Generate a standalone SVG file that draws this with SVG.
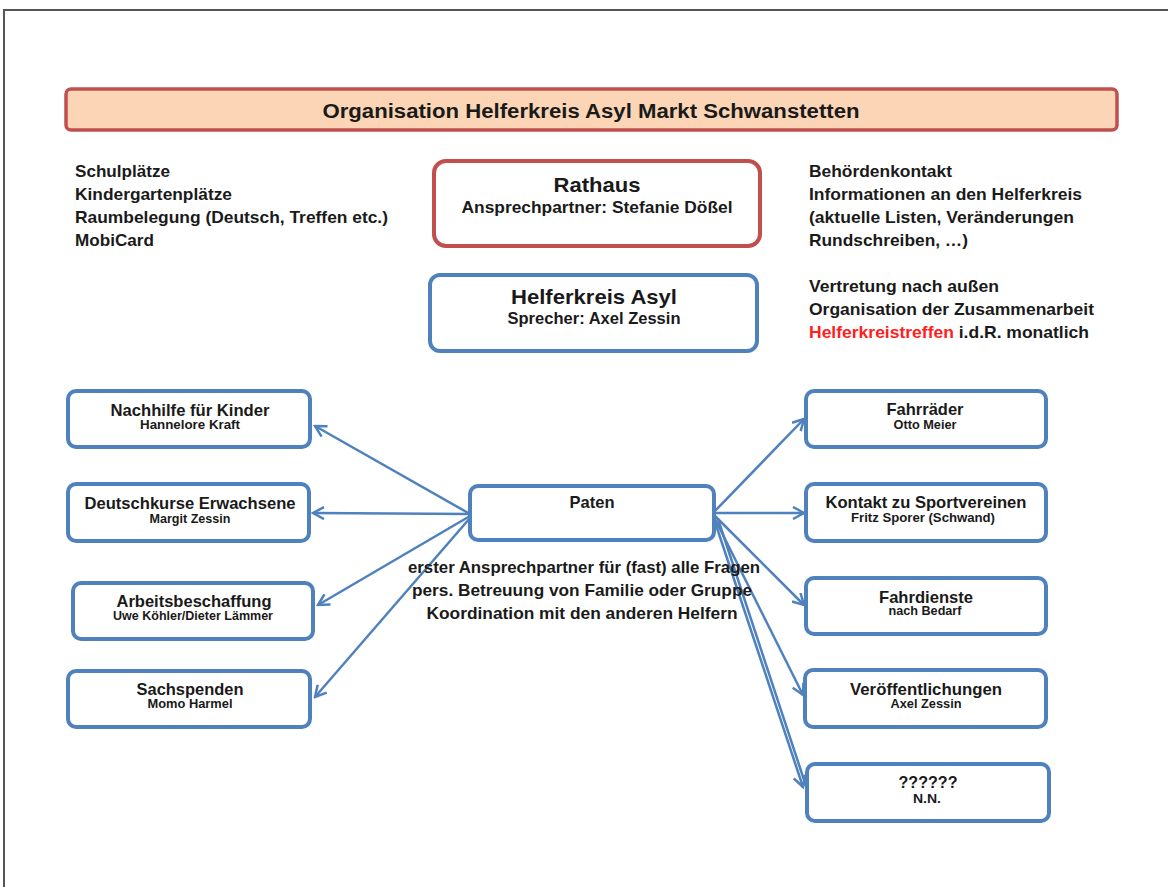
<svg xmlns="http://www.w3.org/2000/svg" width="1168" height="887" viewBox="0 0 1168 887">
<defs>
<style>
text{font-family:"Liberation Sans",Arial,sans-serif;font-weight:bold;fill:#1a1a1a}
.t{font-size:17px}
.b{font-size:16.5px}
.big{font-size:21px}
.ttl{font-size:20px}
.s{font-size:12px}
.c{text-anchor:middle}
.box{fill:#fff;stroke:#4F81BD;stroke-width:4}
.rbox{fill:#fff;stroke:#C0504D;stroke-width:4}
.con{stroke:#4F81BD;stroke-width:2.5;fill:none}
</style>
<marker id="arr" markerWidth="14" markerHeight="14" refX="12" refY="7" orient="auto" markerUnits="userSpaceOnUse">
<path d="M1,1 L12,7 L1,13" fill="none" stroke="#4F81BD" stroke-width="2.5"/>
</marker>
</defs>
<rect width="1168" height="887" fill="#fff"/>
<path d="M4,887 V10 H1168" fill="none" stroke="#555" stroke-width="2"/>

<g id="title">
<rect x="66" y="89" width="1051" height="41" rx="5" fill="#FBD5B5" stroke="#C0504D" stroke-width="3.5"/>
<text class="ttl c" x="591" y="118" textLength="537" lengthAdjust="spacingAndGlyphs">Organisation Helferkreis Asyl Markt Schwanstetten</text>
</g>

<g id="left-notes">
<text class="t" x="75" y="177" textLength="95" lengthAdjust="spacingAndGlyphs">Schulplätze</text>
<text class="t" x="75" y="200" textLength="157" lengthAdjust="spacingAndGlyphs">Kindergartenplätze</text>
<text class="t" x="75" y="223" textLength="313" lengthAdjust="spacingAndGlyphs">Raumbelegung (Deutsch, Treffen etc.)</text>
<text class="t" x="75" y="246" textLength="79" lengthAdjust="spacingAndGlyphs">MobiCard</text>
</g>

<g id="right-notes">
<text class="t" x="809" y="177" textLength="143" lengthAdjust="spacingAndGlyphs">Behördenkontakt</text>
<text class="t" x="809" y="200" textLength="273" lengthAdjust="spacingAndGlyphs">Informationen an den Helferkreis</text>
<text class="t" x="809" y="223" textLength="265" lengthAdjust="spacingAndGlyphs">(aktuelle Listen, Veränderungen</text>
<text class="t" x="809" y="246" textLength="159" lengthAdjust="spacingAndGlyphs">Rundschreiben, …)</text>
<text class="t" x="809" y="292" textLength="190" lengthAdjust="spacingAndGlyphs">Vertretung nach außen</text>
<text class="t" x="809" y="315" textLength="285" lengthAdjust="spacingAndGlyphs">Organisation der Zusammenarbeit</text>
<text class="t" x="809" y="338" textLength="280" lengthAdjust="spacingAndGlyphs"><tspan style="fill:#FF2020">Helferkreistreffen</tspan> i.d.R. monatlich</text>
</g>

<g id="rathaus">
<rect class="rbox" x="434" y="161" width="326" height="85" rx="12"/>
<text class="big c" x="597" y="192" textLength="87" lengthAdjust="spacingAndGlyphs">Rathaus</text>
<text class="t c" x="597" y="213" textLength="271" lengthAdjust="spacingAndGlyphs">Ansprechpartner: Stefanie Dößel</text>
</g>

<g id="helferkreis">
<rect class="box" x="430" y="275" width="327" height="76" rx="10"/>
<text class="big c" x="594" y="304" textLength="166" lengthAdjust="spacingAndGlyphs">Helferkreis Asyl</text>
<text class="t c" x="594" y="324" textLength="173" lengthAdjust="spacingAndGlyphs">Sprecher: Axel Zessin</text>
</g>

<g id="connectors">
<line class="con" x1="470" y1="514" x2="315" y2="426" marker-end="url(#arr)"/>
<line class="con" x1="470" y1="514" x2="313" y2="513" marker-end="url(#arr)"/>
<line class="con" x1="470" y1="516" x2="318" y2="605" marker-end="url(#arr)"/>
<line class="con" x1="470" y1="518" x2="315" y2="697" marker-end="url(#arr)"/>
<line class="con" x1="714" y1="512" x2="804" y2="419" marker-end="url(#arr)"/>
<line class="con" x1="714" y1="513" x2="804" y2="513" marker-end="url(#arr)"/>
<line class="con" x1="714" y1="515" x2="804" y2="605" marker-end="url(#arr)"/>
<line class="con" x1="714" y1="517" x2="803" y2="695" marker-end="url(#arr)"/>
<line class="con" x1="714" y1="519" x2="803" y2="787" marker-end="url(#arr)"/>
<line class="con" x1="718" y1="519" x2="806" y2="786" stroke-width="1.5"/>
</g>

<g id="paten">
<rect class="box" x="470" y="486" width="244" height="54" rx="8"/>
<text class="b c" x="592" y="508" textLength="45" lengthAdjust="spacingAndGlyphs">Paten</text>
</g>
<g id="paten-notes">
<text class="t c" x="584" y="573" textLength="352" lengthAdjust="spacingAndGlyphs">erster Ansprechpartner für (fast) alle Fragen</text>
<text class="t c" x="582" y="596" textLength="340" lengthAdjust="spacingAndGlyphs">pers. Betreuung von Familie oder Gruppe</text>
<text class="t c" x="582" y="619" textLength="311" lengthAdjust="spacingAndGlyphs">Koordination mit den anderen Helfern</text>
</g>

<g id="nachhilfe">
<rect class="box" x="68" y="391" width="242" height="56" rx="8"/>
<text class="b c" x="190" y="416" textLength="159" lengthAdjust="spacingAndGlyphs">Nachhilfe für Kinder</text>
<text class="s c" x="190" y="429" textLength="100" lengthAdjust="spacingAndGlyphs">Hannelore  Kraft</text>
</g>
<g id="deutschkurse">
<rect class="box" x="68" y="484" width="241" height="57" rx="8"/>
<text class="b c" x="190" y="509" textLength="211" lengthAdjust="spacingAndGlyphs">Deutschkurse Erwachsene</text>
<text class="s c" x="190" y="523" textLength="81" lengthAdjust="spacingAndGlyphs">Margit Zessin</text>
</g>
<g id="arbeit">
<rect class="box" x="73" y="583" width="240" height="56" rx="8"/>
<text class="b c" x="194" y="607" textLength="155" lengthAdjust="spacingAndGlyphs">Arbeitsbeschaffung</text>
<text class="s c" x="193" y="620" textLength="160" lengthAdjust="spacingAndGlyphs">Uwe Köhler/Dieter Lämmer</text>
</g>
<g id="sachspenden">
<rect class="box" x="68" y="671" width="242" height="56" rx="8"/>
<text class="b c" x="190" y="695" textLength="107" lengthAdjust="spacingAndGlyphs">Sachspenden</text>
<text class="s c" x="190" y="708" textLength="85" lengthAdjust="spacingAndGlyphs">Momo Harmel</text>
</g>

<g id="fahrraeder">
<rect class="box" x="806" y="391" width="240" height="56" rx="8"/>
<text class="b c" x="925" y="415" textLength="77" lengthAdjust="spacingAndGlyphs">Fahrräder</text>
<text class="s c" x="925" y="429" textLength="63" lengthAdjust="spacingAndGlyphs">Otto Meier</text>
</g>
<g id="sport">
<rect class="box" x="806" y="484" width="240" height="57" rx="8"/>
<text class="b c" x="926" y="508" textLength="201" lengthAdjust="spacingAndGlyphs">Kontakt zu Sportvereinen</text>
<text class="s c" x="923" y="522" textLength="144" lengthAdjust="spacingAndGlyphs">Fritz Sporer (Schwand)</text>
</g>
<g id="fahrdienste">
<rect class="box" x="806" y="578" width="240" height="56" rx="8"/>
<text class="b c" x="926" y="603" textLength="94" lengthAdjust="spacingAndGlyphs">Fahrdienste</text>
<text class="s c" x="925" y="615" textLength="73" lengthAdjust="spacingAndGlyphs">nach Bedarf</text>
</g>
<g id="veroeffentlichungen">
<rect class="box" x="805" y="670" width="241" height="57" rx="8"/>
<text class="b c" x="926" y="695" textLength="152" lengthAdjust="spacingAndGlyphs">Veröffentlichungen</text>
<text class="s c" x="926" y="708" textLength="71" lengthAdjust="spacingAndGlyphs">Axel Zessin</text>
</g>
<g id="nn">
<rect class="box" x="807" y="764" width="242" height="57" rx="8"/>
<text class="b c" x="928" y="788" textLength="59" lengthAdjust="spacingAndGlyphs">??????</text>
<text class="s c" x="927" y="803" textLength="28" lengthAdjust="spacingAndGlyphs">N.N.</text>
</g>
</svg>
